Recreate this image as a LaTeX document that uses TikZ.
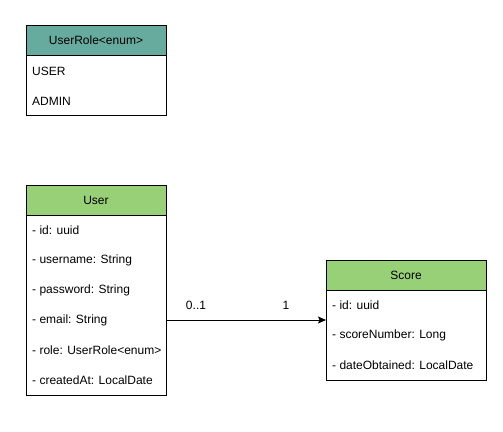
\documentclass[tikz,border=0pt]{standalone}
\usepackage{fontspec}
\setmainfont{Liberation Sans}
\usetikzlibrary{arrows.meta}
\definecolor{enumhead}{HTML}{67AB9F}
\definecolor{classhead}{HTML}{97D077}
\tikzset{
  x=1pt, y=-1pt,
  frame/.style={draw=black, line width=1pt},
  headtxt/.style={font=\fontsize{12}{14}\selectfont, anchor=center, inner sep=0pt},
  itemtxt/.style={font=\fontsize{12}{14}\selectfont, anchor=west, inner sep=0pt},
  mult/.style={font=\fontsize{12}{14}\selectfont, inner sep=0pt},
  assoc/.style={draw=black, line width=1pt, -{Stealth[length=8pt,width=7pt,inset=1.5pt]}}
}
\begin{document}
\begin{tikzpicture}
\useasboundingbox[fill=white] (0,0) rectangle (503,431);

% UserRole enumeration
\fill[enumhead] (26,25) rectangle (166,55);
\draw[frame] (26,25) rectangle (166,115);
\draw[frame] (26,55) -- (166,55);
\node[headtxt] (roleH) at (96,40) {UserRole<enum>};
\node[itemtxt] (roleA) at (32,71) {USER};
\node[itemtxt] (roleB) at (32,101) {ADMIN};

% User class
\fill[classhead] (26,185) rectangle (166,215);
\draw[frame] (26,185) rectangle (166,395);
\draw[frame] (26,215) -- (166,215);
\node[headtxt] (userH) at (96,200) {User};
\node[itemtxt] at (32,230) {- id: uuid};
\node[itemtxt] at (32,260) {- username: String};
\node[itemtxt] at (32,290) {- password: String};
\node[itemtxt] at (32,320) {- email: String};
\node[itemtxt] at (32,350) {- role: UserRole<enum>};
\node[itemtxt] at (32,380) {- createdAt: LocalDate};
\coordinate (userR) at (166,320);

% Score class
\fill[classhead] (326,260) rectangle (486,290);
\draw[frame] (326,260) rectangle (486,380);
\draw[frame] (326,290) -- (486,290);
\node[headtxt] (scoreH) at (406,275) {Score};
\node[itemtxt] at (332,305) {- id: uuid};
\node[itemtxt] at (332,335) {- scoreNumber: Long};
\node[itemtxt] at (332,365) {- dateObtained: LocalDate};
\coordinate (scoreL) at (326,320);

% Association User -> Score
\draw[assoc] (userR) -- (scoreL);
\node[mult] (m1) at (196,305) {0..1};
\node[mult] (m2) at (286,305) {1};
\end{tikzpicture}
\end{document}
